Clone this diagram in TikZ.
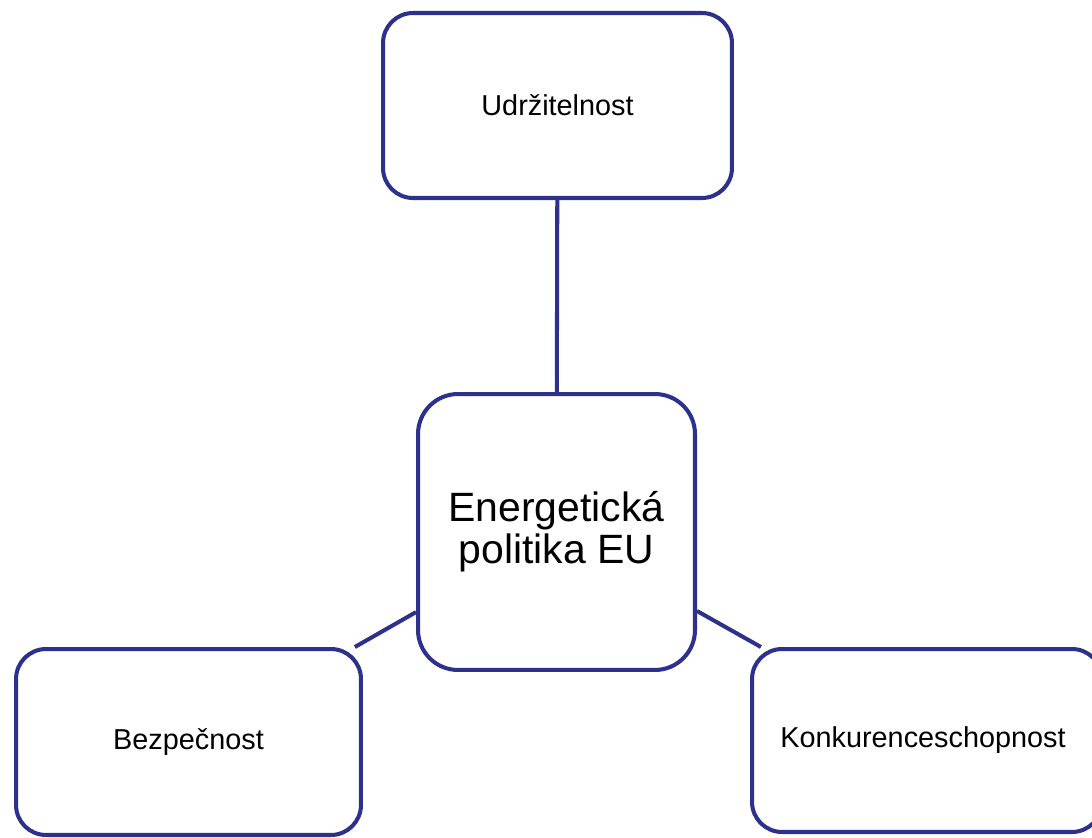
\documentclass[tikz,border=0pt]{standalone}
\usepackage{fontspec}
\setmainfont{Liberation Sans}
\usetikzlibrary{positioning}
\definecolor{boxnavy}{RGB}{46, 49, 140}

\begin{document}
\begin{tikzpicture}[x=0.02cm, y=-0.02cm,
  pillar/.style={draw=boxnavy, line width=2.3pt, fill=white, rounded corners=0.6cm,
    align=center, font=\fontsize{16.4}{19}\selectfont, inner sep=0pt},
  link/.style={draw=boxnavy, line width=2.3pt}]
  \useasboundingbox (0, 0) rectangle (1092, 838);

  \coordinate (hub) at (556.5, 532);

  % The three pillars
  \node[pillar, minimum width=6.98cm, minimum height=3.70cm] (sustain) at (557.5, 105.5) {Udržitelnost};
  \node[pillar, minimum width=6.90cm, minimum height=3.72cm] (security) at (188.5, 742) {Bezpečnost};
  \node[pillar, minimum width=7.00cm, minimum height=3.66cm] (compete) at (927, 740.5) {};
  \node[font=\fontsize{16.4}{19}\selectfont, inner sep=0pt] (competetext) at (923, 740.5) {Konkurenceschopnost};

  % Centre
  \node[pillar, rounded corners=0.8cm, minimum width=5.54cm, minimum height=5.52cm,
    font=\fontsize{23.3}{23.8}\selectfont] (policy) at (hub) {Energetická\\politika EU};

  \draw[link] (policy) -- (sustain);
  \draw[link] (policy) -- (security);
  \draw[link] (policy) -- (compete);
\end{tikzpicture}
\end{document}
